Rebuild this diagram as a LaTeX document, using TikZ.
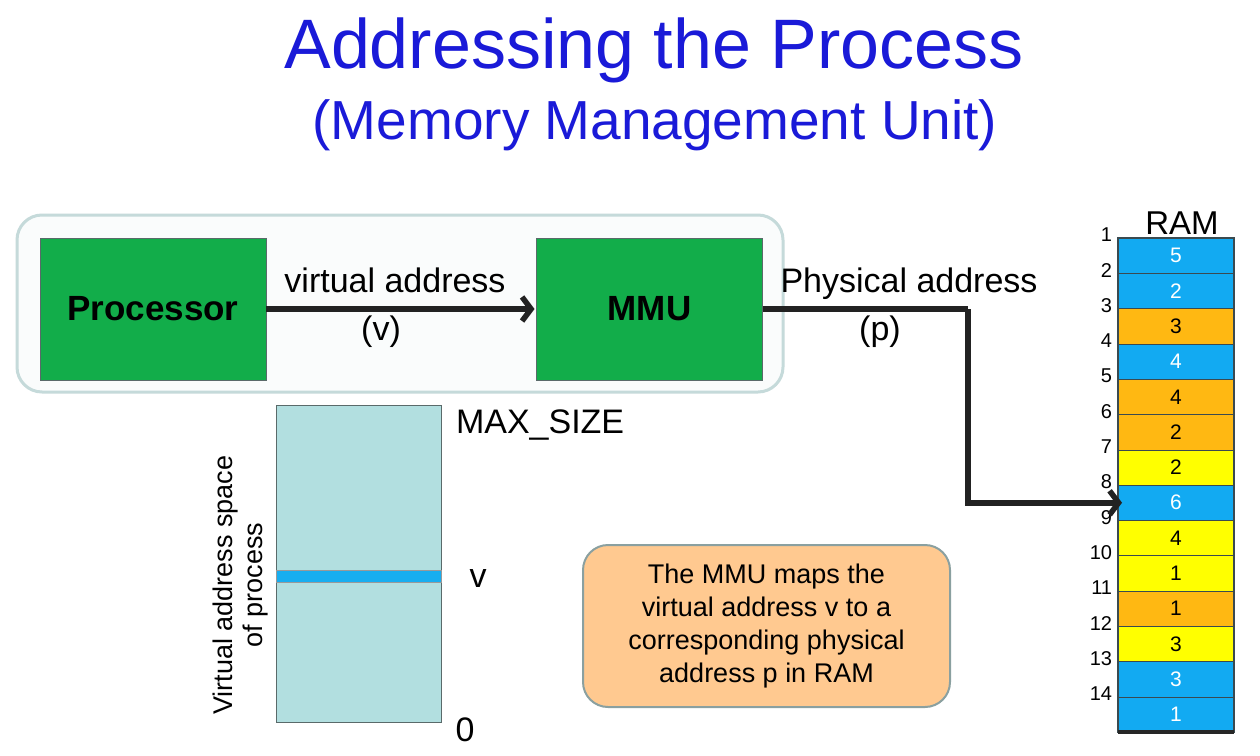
\documentclass[tikz,border=0pt]{standalone}
\usepackage{fontspec}
\setmainfont{Liberation Sans}
\usetikzlibrary{arrows.meta}
\definecolor{titleblue}{HTML}{1A1AD8}
\definecolor{boxgreen}{HTML}{12AD4A}
\definecolor{boxedge}{HTML}{5A6A6A}
\definecolor{panelfill}{HTML}{FAFCFC}
\definecolor{paneledge}{HTML}{C5DADA}
\definecolor{ramblue}{HTML}{12AAF2}
\definecolor{ramorange}{HTML}{FFB812}
\definecolor{ramyellow}{HTML}{FFFF00}
\definecolor{ramline}{HTML}{3A4A50}
\definecolor{vasfill}{HTML}{B2DFE0}
\definecolor{bandblue}{HTML}{18AEF0}
\definecolor{notefill}{HTML}{FFC990}
\definecolor{noteedge}{HTML}{8AA0A0}
\definecolor{wire}{HTML}{222222}
\newcommand\fsz[2]{\fontsize{#1}{#2}\selectfont}
\tikzset{
  unit/.style={draw=boxedge, line width=0.8pt, fill=boxgreen, minimum width=226pt,
    minimum height=142pt, font=\fsz{35}{40}\bfseries},
  label/.style={font=\fsz{34}{40}},
  wirearrow/.style={draw=wire, line width=5.5pt, -{Straight Barb[length=9pt,width=24pt]}},
  wireline/.style={draw=wire, line width=5.5pt},
  ramcell/.style={draw=ramline, line width=0.6pt, minimum width=116pt, minimum height=35.3pt,
    font=\fsz{21}{22}},
  ramB/.style={fill=ramblue, text=white},
  ramO/.style={fill=ramorange, text=black},
  ramY/.style={fill=ramyellow, text=black},
  rownum/.style={anchor=east, font=\fsz{20}{22}},
}
\begin{document}
\begin{tikzpicture}[x=1pt, y=-1pt, every node/.style={inner sep=0pt, outer sep=0pt}]
\useasboundingbox[fill=white] (0,0) rectangle (1260,755);

% title
\node[text=titleblue, font=\fsz{70}{80}] (title) at (654,50) {Addressing the Process};
\node[text=titleblue, font=\fsz{55}{64}] (subtitle) at (655,125) {(Memory Management Unit)};

% panel holding processor and MMU
\draw[draw=paneledge, line width=3pt, fill=panelfill, rounded corners=25pt] (17,215) rectangle (783,392);

\node[unit] (cpu) at (153,309) {Processor};
\node[unit] (mmu) at (649.5,309) {MMU};

\draw[wirearrow] (cpu.east) -- ([xshift=-2pt]mmu.west);
\node[label, anchor=base] (vlabel) at (395,292) {virtual address};
\node[label, anchor=base] (vsym) at (381,340) {(v)};

% RAM column
\node[font=\fsz{33}{40}, anchor=base] (ramtitle) at (1182,234) {RAM};
\foreach \i/\s/\t in {1/ramB/5,2/ramB/2,3/ramO/3,4/ramB/4,5/ramO/4,6/ramO/2,7/ramY/2,
                      8/ramB/6,9/ramY/4,10/ramY/1,11/ramO/1,12/ramY/3,13/ramB/3,14/ramB/1}{
  \node[ramcell, \s] (r\i) at (1176,{238+(\i-0.5)*35.3}) {\t};
  \node[rownum] (n\i) at (1112,{238+(\i-1)*35.3-3}) {\i};
}
\draw[draw=ramline, line width=1.5pt] (r1.north west) rectangle (r14.south east);
\draw[draw=black!85, line width=3.5pt] (r14.south west) -- (r14.south east);

% MMU to RAM
\coordinate (bend) at (968,309);
\draw[wireline] (mmu.east) -- (bend);
\draw[wirearrow] (bend) |- ([xshift=4pt]r8.west);
\node[label, anchor=base] (plabel) at (909,292) {Physical address};
\node[label, anchor=base] (psym) at (880,340) {(p)};

% virtual address space
\node[draw=boxedge, line width=0.8pt, fill=vasfill, minimum width=165pt, minimum height=317pt]
  (vas) at (358.5,563.5) {};
\node[draw=gray!80, line width=1pt, fill=bandblue, minimum width=165pt, minimum height=12pt]
  (vband) at (358.5,576.5) {};
\node[label, anchor=west] (maxl) at (456,425) {MAX\_SIZE};
\node[label] (vmark) at (478,579) {v};
\node[label] (zero) at (465,730) {0};
\node[font=\fsz{27}{30}, align=center, rotate=90] (vaslabel) at (241,585)
  {Virtual address space\\of process};

% explanatory note
\node[draw=noteedge, line width=2pt, fill=notefill, rounded corners=25pt,
      minimum width=367pt, minimum height=162pt, align=center, font=\fsz{27}{33}]
  (note) at (766.5,626)
  {The MMU maps the\\virtual address v to a\\corresponding physical\\address p in RAM};
\end{tikzpicture}
\end{document}
